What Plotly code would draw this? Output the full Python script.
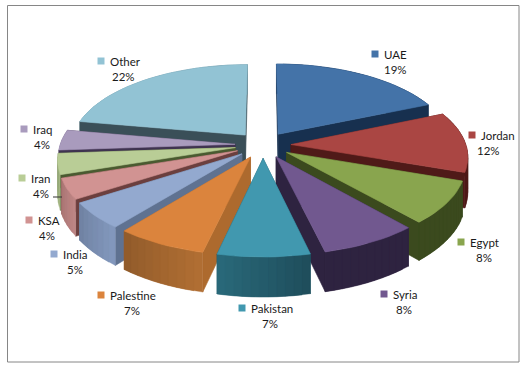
import math
import plotly.graph_objects as go

categories = ["UAE", "Jordan", "Egypt", "Syria", "Pakistan", "Palestine", "India", "KSA", "Iran", "Iraq", "Other"]
values = [18.6, 11.7, 8.2, 7.8, 7.3, 7.2, 5.1, 4.0, 4.0, 3.9, 22.2]

top_colors = ["#4473A8", "#AA4643", "#89A54E", "#71588F", "#4198AF", "#DB843D", "#93A9CF", "#D19392", "#B9CD96", "#A99BBD", "#92C3D4"]
wall_from = ["#17375E", "#4F1A18", "#3B4A1E", "#2E2340", "#2A6B7C", "#B06E33", "#8297BC", "#BD8584", "#A6B885", "#8F82A3", "#7FAAB9"]
wall_to = ["#17375E", "#4F1A18", "#3B4A1E", "#2E2340", "#1F4E5C", "#8F5A2A", "#6E80A0", "#A87372", "#93A576", "#7A6E8C", "#6C94A3"]
cut_colors = ["#17304F", "#4F1A18", "#3B4A1E", "#2E2340", "#1F5767", "#AD6A2E", "#5F7291", "#6B3F3E", "#4A5A30", "#3F3350", "#3A4F58"]

label_anchor = [(375, 54, 395, 69), (472, 135, 488, 150), (461, 242, 484, 257), (384, 294, 404, 309),
                (242, 308, 270, 323), (101, 295, 132, 310), (54, 254, 75, 269), (29, 220, 47, 235),
                (22, 178, 41, 193), (24, 129, 42, 144), (101, 61, 123, 76)]

CX, CY, RX, RY, P, EXPLODE, DEPTH = 263, 145, 175, 82, 0.13, 0.16, 34
TOTAL = sum(values)


def project(u, v, below=False):
    s = 1 / (1 - P * v)
    return CX + RX * u * s, CY + (RY * v + (DEPTH if below else 0)) * s


def mix(a, b, t):
    ca = [int(a[i:i + 2], 16) for i in (1, 3, 5)]
    cb = [int(b[i:i + 2], 16) for i in (1, 3, 5)]
    return "#%02x%02x%02x" % tuple(round(x + (y - x) * t) for x, y in zip(ca, cb))


def poly(points, color, width=0.6):
    return go.Scatter(x=[p[0] for p in points] + [points[0][0]], y=[p[1] for p in points] + [points[0][1]],
                      mode="lines", fill="toself", fillcolor=color, line=dict(color=color, width=width),
                      hoverinfo="skip", showlegend=False)


slices = []
acc = 0
for i, val in enumerate(values):
    a0 = 2 * math.pi * acc / TOTAL
    a1 = 2 * math.pi * (acc + val) / TOTAL
    acc += val
    mid = (a0 + a1) / 2
    slices.append((-math.cos(mid), i, a0, a1, mid))
slices.sort()

fig = go.Figure()
for _, i, a0, a1, mid in slices:
    ou, ov = EXPLODE * math.sin(mid), -EXPLODE * math.cos(mid)
    n = max(6, int((a1 - a0) * 24))
    arc = [(ou + math.sin(a0 + (a1 - a0) * k / n), ov - math.cos(a0 + (a1 - a0) * k / n)) for k in range(n + 1)]
    faces = []
    for (u1, v1) in (arc[0], arc[-1]):
        faces.append(((v1 + ov) / 2, [project(ou, ov), project(u1, v1), project(u1, v1, True), project(ou, ov, True)],
                      cut_colors[i]))
    faces.sort(key=lambda f: f[0])
    hidden = faces[0]
    fig.add_trace(poly(hidden[1], hidden[2]))
    wall = []
    for k in range(n):
        span = arc[k:k + 3]
        pts = [project(u, v) for u, v in span] + [project(u, v, True) for u, v in reversed(span)]
        wall.append(poly(pts, mix(wall_from[i], wall_to[i], k / n if math.sin(mid) < 0 else 1 - k / n), 0.3))
    visible = poly(faces[1][1], faces[1][2])
    if ov < 0:
        fig.add_traces(wall)
        fig.add_trace(visible)
    else:
        fig.add_trace(visible)
        fig.add_traces(wall)
    fig.add_trace(poly([project(ou, ov)] + [project(u, v) for u, v in arc], top_colors[i]))

annotations = []
font = dict(family="Lato", size=11.5, color="#1a1a1a")
for i, name in enumerate(categories):
    mx, my, px, py = label_anchor[i]
    fig.add_trace(go.Scatter(x=[mx], y=[my], mode="markers", hoverinfo="skip", showlegend=False,
                             marker=dict(symbol="square", size=7, color=top_colors[i], line=dict(width=0))))
    annotations.append(dict(x=mx + 7, y=my, text=name, xref="x", yref="y", xanchor="left", yanchor="middle",
                            showarrow=False, font=font))
    annotations.append(dict(x=px, y=py, text=f"{round(100 * values[i] / TOTAL)}%", xref="x", yref="y",
                            xanchor="center", yanchor="middle", showarrow=False, font=font))

fig.update_layout(
    width=525, height=368, margin=dict(l=0, r=0, t=0, b=0), paper_bgcolor="white", plot_bgcolor="white",
    showlegend=False, annotations=annotations,
    xaxis=dict(range=[0, 525], visible=False, fixedrange=True),
    yaxis=dict(range=[368, 0], visible=False, fixedrange=True),
    shapes=[dict(type="rect", x0=7.5, y0=5.5, x1=519, y1=362, xref="x", yref="y", line=dict(color="#868686", width=1)),
            dict(type="line", x0=53, y0=197, x1=62, y1=197, xref="x", yref="y", line=dict(color="#333333", width=1))],
)
fig.write_html("out.html", config=dict(displayModeBar=False),
               post_script="document.documentElement.style.overflow='hidden';document.body.style.margin='0';")
